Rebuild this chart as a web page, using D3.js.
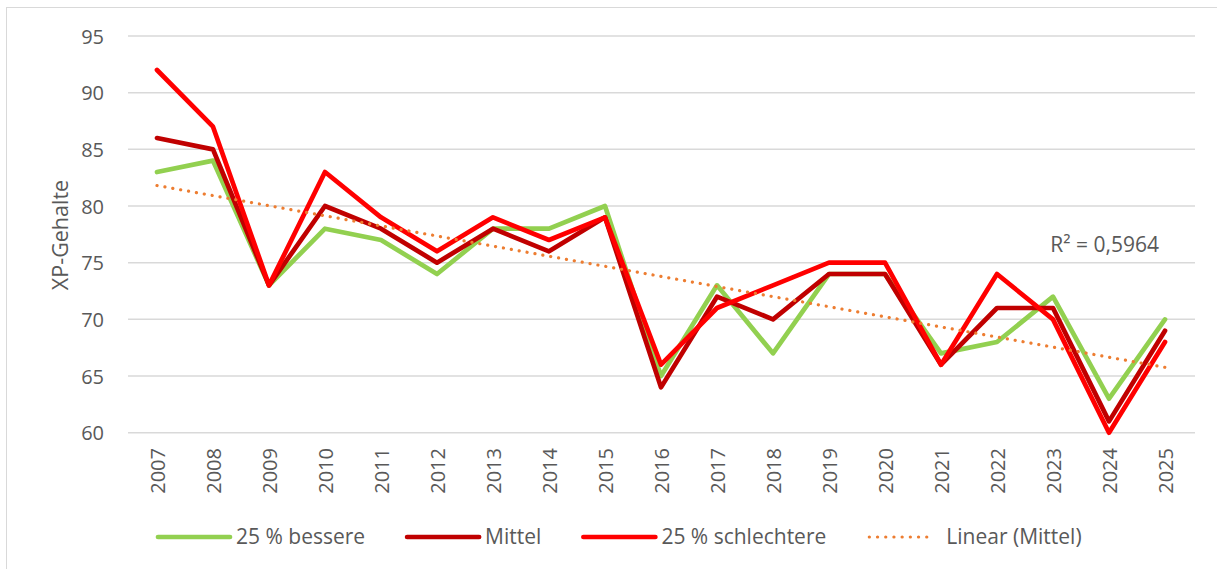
<!DOCTYPE html>
<html>
<head>
<meta charset="utf-8">
<script src="https://cdn.jsdelivr.net/npm/d3@7"></script>
<style>
  body { margin: 0; background: #fff; }
  text { font-family: "Open Sans", sans-serif; fill: #595959; }
</style>
</head>
<body>
<svg id="chart" width="1217" height="569"></svg>
<script>
const years = ["2007","2008","2009","2010","2011","2012","2013","2014","2015","2016",
               "2017","2018","2019","2020","2021","2022","2023","2024","2025"]
const besser = [83, 84, 73, 78, 77, 74, 78, 78, 80, 65, 73, 67, 74, 74, 67, 68, 72, 63, 70]
const mittel = [86, 85, 73, 80, 78, 75, 78, 76, 79, 64, 72, 70, 74, 74, 66, 71, 71, 61, 69]
const schlechter = [92, 87, 73, 83, 79, 76, 79, 77, 79, 66, 71, 73, 75, 75, 66, 74, 70, 60, 68]
const yTicks = [60, 65, 70, 75, 80, 85, 90, 95]
const seriesNames = ["25 % bessere", "Mittel", "25 % schlechtere", "Linear (Mittel)"]
const seriesColors = ["#92D050", "#C00000", "#FF0000", "#ED7D31"]
const r2Label = "R² = 0,5964"

const svg = d3.select("#chart")

// chart area border (only top/left visible in the picture)
svg.append("rect")
    .attr("x", 6.5).attr("y", 7.5)
    .attr("width", 1230).attr("height", 580)
    .attr("fill", "none")
    .attr("stroke", "#D9D9D9")

var x = d3.scalePoint()
    .domain(years)
    .range([129, 1193])
    .padding(0.5)

var y = d3.scaleLinear()
    .domain([60, 95])
    .range([432.7, 36])

// gridlines
svg.append("g")
    .selectAll("line")
    .data(yTicks)
    .join("line")
    .attr("x1", 128)
    .attr("x2", 1195)
    .attr("y1", (d) => y(d))
    .attr("y2", (d) => y(d))
    .attr("stroke", "#D9D9D9")
    .attr("stroke-width", 1.5)

// y axis labels
const yAxis = svg.append("g")
    .attr("transform", "translate(104,0)")
    .call(d3.axisLeft(y).tickValues(yTicks).tickSize(0).tickPadding(0))
yAxis.select(".domain").remove()
yAxis.selectAll("text")
    .attr("font-size", 20)
    .attr("font-family", "Open Sans")
    .attr("fill", "#595959")
    .attr("dy", "0.35em")

// x axis labels
const xAxis = svg.append("g")
    .attr("transform", "translate(0,433)")
    .call(d3.axisBottom(x).tickSize(0).tickPadding(0))
xAxis.select(".domain").remove()
xAxis.selectAll("text")
    .attr("font-size", 20)
    .attr("font-family", "Open Sans")
    .attr("fill", "#595959")
    .attr("text-anchor", "end")
    .attr("transform", "translate(0,15) rotate(-90)")
    .attr("x", 0)
    .attr("y", 0)
    .attr("dy", "0.35em")

// y title
svg.append("text")
    .attr("transform", "translate(60,235) rotate(-90)")
    .attr("text-anchor", "middle")
    .attr("dy", "0.35em")
    .attr("font-size", 21.5)
    .text("XP-Gehalte")

const line = d3.line()
    .x((d, i) => x(years[i]))
    .y((d) => y(d))

const allSeries = [besser, mittel, schlechter]
svg.append("g")
    .selectAll("path")
    .data(allSeries)
    .join("path")
    .attr("d", (d) => line(d))
    .attr("fill", "none")
    .attr("stroke", (d, i) => seriesColors[i])
    .attr("stroke-width", 4.7)
    .attr("stroke-linejoin", "round")
    .attr("stroke-linecap", "round")

// linear trend of Mittel (least squares, as the spreadsheet does)
const n = mittel.length
const xs = d3.range(1, n + 1)
const mx = d3.mean(xs), my = d3.mean(mittel)
const slope = d3.sum(xs, (v, i) => (v - mx) * (mittel[i] - my)) / d3.sum(xs, (v) => (v - mx) * (v - mx))
const trend = xs.map((v) => my + slope * (v - mx))

svg.append("path")
    .attr("d", line(trend))
    .attr("fill", "none")
    .attr("stroke", seriesColors[3])
    .attr("stroke-width", 3.2)
    .attr("stroke-linecap", "round")
    .attr("stroke-dasharray", "0.1,7.9")

svg.append("text")
    .attr("x", 1159)
    .attr("y", 252)
    .attr("text-anchor", "end")
    .attr("font-size", 21)
    .text(r2Label)

// legend
const legend = svg.append("g").attr("transform", "translate(0,537)")
let lx = 158
seriesNames.forEach(function(name, i) {
    const item = legend.append("g")
    const l = item.append("line")
        .attr("x1", lx + (i == 3 ? 1 : 0))
        .attr("x2", lx + (i == 3 ? 66 : 72))
        .attr("y1", 0).attr("y2", 0)
        .attr("stroke", seriesColors[i])
    if (i == 3) {
        l.attr("stroke-width", 3.2)
            .attr("stroke-linecap", "round")
            .attr("stroke-dasharray", "0.1,8.1")
    } else {
        l.attr("stroke-width", 4.7)
            .attr("stroke-linecap", "round")
    }
    const t = item.append("text")
        .attr("x", lx + 78)
        .attr("y", 0)
        .attr("dy", "0.35em")
        .attr("font-size", 21)
        .text(name)
    lx = lx + 78 + t.node().getComputedTextLength() + 42
})
</script>
</body>
</html>
